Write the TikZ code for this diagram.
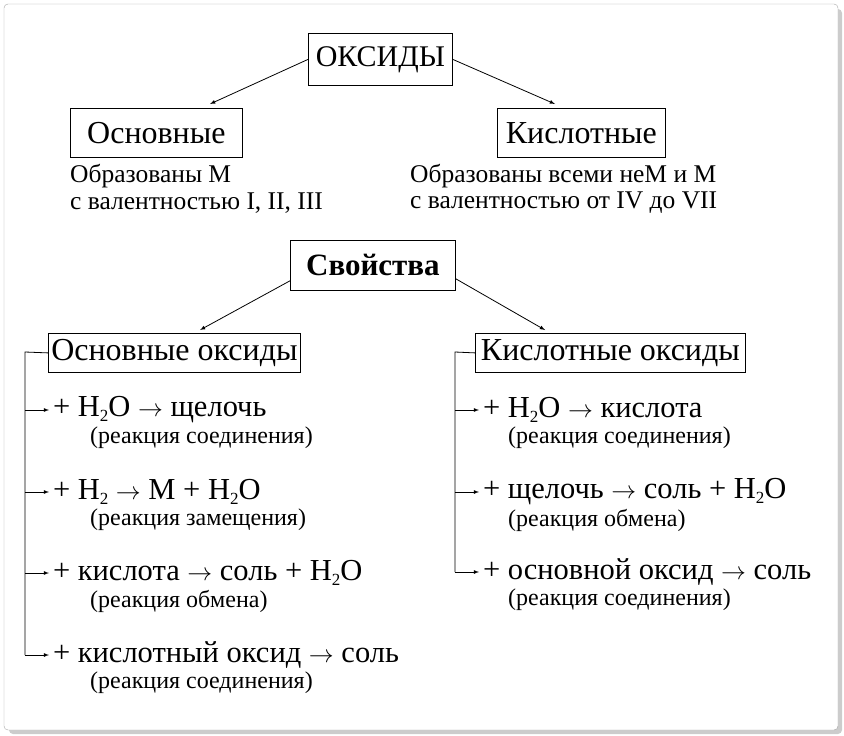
\documentclass[tikz,border=0pt]{standalone}
\usepackage{fontspec}
\setmainfont{Liberation Serif}
\newcommand{\hdo}{H\raisebox{-0.35ex}{\fontsize{17}{18}\selectfont 2}}
\begin{document}
\begin{tikzpicture}[x=1pt,y=-1pt,
 bx/.style={draw,thick,fill=white,inner sep=0pt,anchor=north west},
 big/.style={font=\fontsize{32}{36}\selectfont},
 sub/.style={font=\fontsize{24}{28}\selectfont,anchor=west,inner sep=0pt},
 top/.style={font=\fontsize{25.5}{30}\selectfont,anchor=west,inner sep=0pt},
 item/.style={font=\fontsize{30.5}{34}\selectfont,anchor=west,inner sep=0pt},
 arr/.style={-latex,thick}]
\useasboundingbox (0,0) rectangle (844,736);
\fill[gray!40,rounded corners=4pt] (9,9) rectangle (842,734);
\draw[fill=white,rounded corners=4pt,draw=gray!70] (4,4) rectangle (838,730);
\node[bx,minimum width=144,minimum height=52,font=\fontsize{30}{34}\selectfont] (ox) at (308,33) {ОКСИДЫ};
\node[bx,big,minimum width=172,minimum height=49] (osn) at (70,108) {Основные};
\node[bx,big,minimum width=168,minimum height=49] (kis) at (497,108) {Кислотные};
\draw[arr] (ox.west) -- (210,104);
\draw[arr] (ox.east) -- (555,104);
\node[top] (t1) at (70,176) {Образованы М};
\node[top] (t2) at (70,203) {с валентностью I, II, III};
\node[top] (t3) at (410,176) {Образованы всеми неМ и М};
\node[top] (t4) at (410,203) {с валентностью от IV до VII};
\node[bx,minimum width=165,minimum height=50,font=\fontsize{31}{34}\selectfont\bfseries] (sv) at (290,240) {Свойства};
\draw[arr] ([yshift=10]sv.south west) -- (200,330);
\draw[arr] ([yshift=12]sv.south east) -- (545,330);
\node[bx,big,minimum width=252,minimum height=39] (bo) at (48,333) {Основные оксиды};
\node[bx,big,minimum width=270,minimum height=39] (ko) at (475,333) {Кислотные оксиды};
\coordinate (lt) at (25,352);
\draw[thick] (bo.west) -- (lt) -- (25,655);
\coordinate (rt) at (455,352);
\draw[thick] (ko.west) -- (rt) -- (455,572);
\foreach \y/\a/\b [count=\i] in {410/{+ \hdo O $\rightarrow$ щелочь}/{(реакция соединения)},
 492/{+ \hdo{} $\rightarrow$ М + \hdo O}/{(реакция замещения)},
 573/{+ кислота $\rightarrow$ соль + \hdo O}/{(реакция обмена)},
 655/{+ кислотный оксид $\rightarrow$ соль}/{(реакция соединения)}}{
 \coordinate (la\i) at (25,\y);
 \node[item,outer sep=4pt] (li\i) at (49,\y) {\a};
 \draw[arr] (la\i) -- (li\i.west);
 \node[sub] (ls\i) at (90,\y+28) {\b};
}
\foreach \y/\a/\b [count=\i] in {410/{+ \hdo O $\rightarrow$ кислота}/{(реакция соединения)},
 492/{+ щелочь $\rightarrow$ соль + \hdo O}/{(реакция обмена)},
 572/{+ основной оксид $\rightarrow$ соль}/{(реакция соединения)}}{
 \coordinate (ra\i) at (455,\y);
 \node[item,outer sep=4pt] (ri\i) at (479,\y) {\a};
 \draw[arr] (ra\i) -- (ri\i.west);
 \node[sub] (rs\i) at (508,\y+28) {\b};
}
\end{tikzpicture}
\end{document}
